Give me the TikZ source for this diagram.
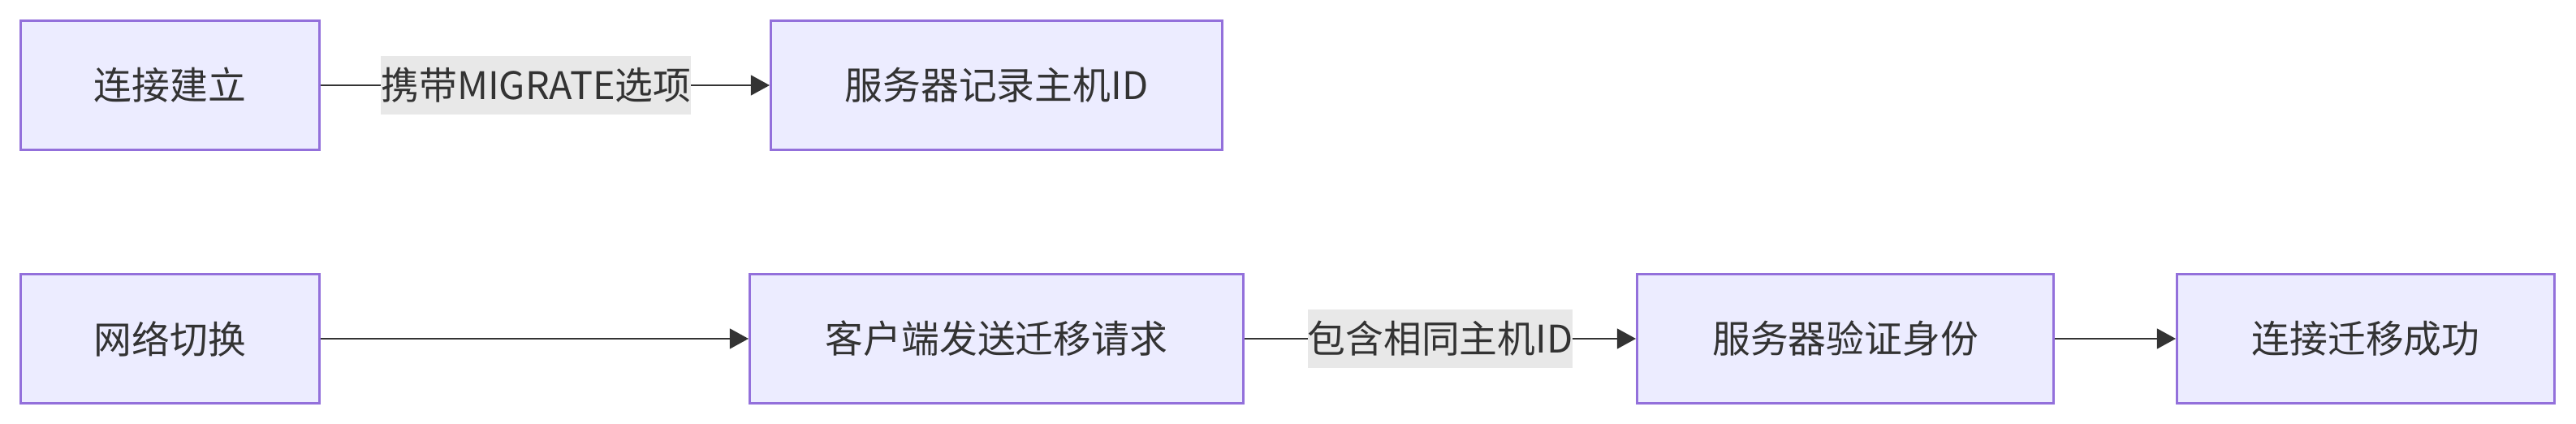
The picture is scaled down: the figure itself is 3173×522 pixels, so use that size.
\documentclass[tikz,border=0pt]{standalone}
\usepackage{fontspec}
\setmainfont{Noto Sans CJK SC}
\usepackage{tikz}
\usetikzlibrary{positioning,arrows.meta}

\definecolor{boxfill}{HTML}{ECECFF}
\definecolor{boxline}{HTML}{9370DB}
\definecolor{ink}{HTML}{333333}
\definecolor{lblfill}{HTML}{E8E8E8}

\begin{document}
\begin{tikzpicture}[x=0.25pt,y=-0.25pt,font=\fontsize{11.7pt}{14pt}\selectfont,text=ink,
	box/.style={rectangle,draw=boxline,fill=boxfill,line width=0.75pt,minimum height=39.75pt,inner sep=0pt},
	lbl/.style={fill=lblfill,inner sep=0pt,minimum height=18pt,text=ink},
	edge/.style={draw=ink,line width=0.58pt,-{Triangle[length=5.8pt,width=6.2pt]}}]
		\useasboundingbox (0,0) rectangle (3173,522);

		\node[box,minimum width=92pt]										(1)		at (209.5,105)	{连接建立};
		\node[box,minimum width=139pt,node distance=138.25pt,right=of 1]		(2)		{服务器记录主机ID};
		\node[box,minimum width=92pt,node distance=37.5pt,below=of 1]		(3)		{网络切换};
		\node[box,minimum width=152pt,node distance=131.75pt,right=of 3]		(4)		{客户端发送迁移请求};
		\node[box,minimum width=128.25pt,node distance=120.5pt,right=of 4]	(5)		{服务器验证身份};
		\node[box,minimum width=116.25pt,node distance=37.25pt,right=of 5]	(6)		{连接迁移成功};

		\draw[edge] (1) -- node[lbl,pos=0.48]{携带MIGRATE选项} (2);
		\draw[edge] (3) -- (4);
		\draw[edge] (4) -- node[lbl]{包含相同主机ID} (5);
		\draw[edge] (5) -- (6);
	\end{tikzpicture}
\end{document}
